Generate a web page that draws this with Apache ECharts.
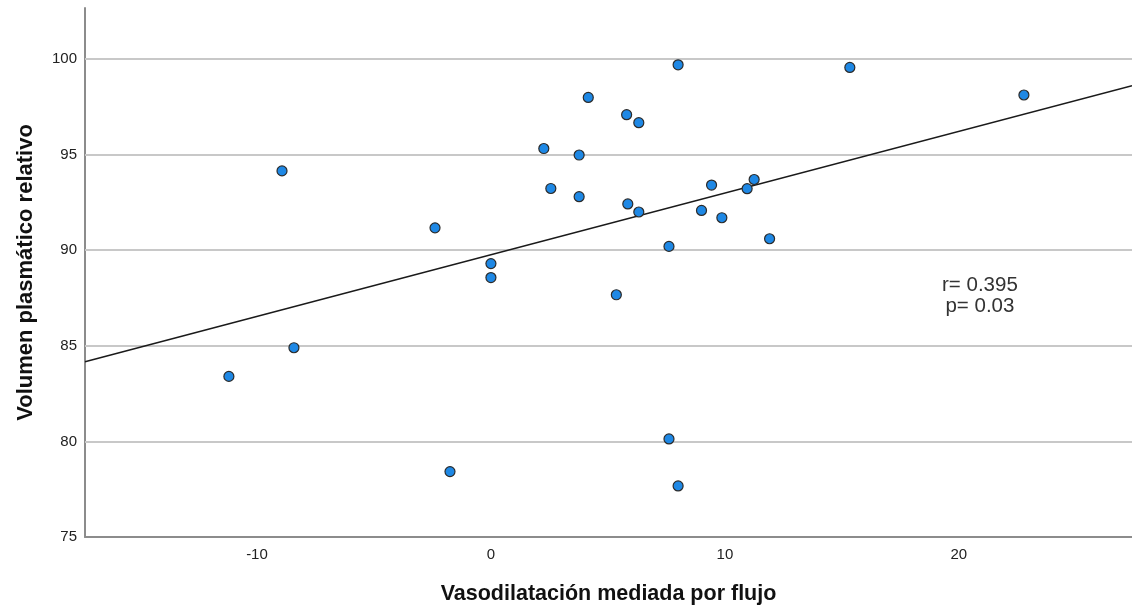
<!DOCTYPE html>
<html><head><meta charset="utf-8">
<script src="https://cdn.jsdelivr.net/npm/echarts@6/dist/echarts.min.js"></script>
<style>html,body{margin:0;padding:0;background:#fff}#c{width:1132px;height:607px}</style>
</head><body><div id="c"></div>
<script>
const xValues = [-11.2,-8.42,-8.93,-2.39,-1.75,0,0,2.26,2.56,3.77,3.77,4.16,5.36,5.8,5.85,6.32,6.32,8.0,7.61,9.0,9.43,9.87,10.95,11.25,11.91,7.61,8.0,15.34,22.78];
const yValues = [83.4,84.9,94.15,91.17,78.42,89.3,88.57,95.32,93.23,94.98,92.8,97.99,87.67,97.09,92.42,96.67,92.0,99.7,90.2,92.08,93.41,91.7,93.22,93.7,90.6,80.13,77.67,99.56,98.12];
const fitLine = [[-17.35,84.17],[27.4,98.6]];
const xTicks = [-10,0,10,20];
const yTicks = [75,80,85,90,95,100];
const stats = ['r= 0.395','p= 0.03'];
const xTitle = 'Vasodilatación mediada por flujo';
const yTitle = 'Volumen plasmático relativo';

const points = xValues.map((x,i)=>[x,yValues[i]]);
const chart = echarts.init(document.getElementById('c'));
const FONT = '"Liberation Sans", Arial, sans-serif';
chart.setOption({
  animation:false,
  grid:{left:85,right:0,top:8,bottom:70,containLabel:false,outerBoundsMode:'none'},
  xAxis:{type:'value',min:-17.35,max:27.4,
    axisLine:{show:true,onZero:false,lineStyle:{color:'#8c8c8c',width:2}},
    axisTick:{show:false},splitLine:{show:false},
    axisLabel:{customValues:xTicks,color:'#222',fontSize:15,fontFamily:FONT,margin:10},
    name:xTitle,nameLocation:'middle',nameGap:46,
    nameTextStyle:{fontSize:21.5,fontWeight:'bold',color:'#111',fontFamily:FONT}},
  yAxis:{type:'value',min:75,max:102.67,
    axisLine:{show:true,onZero:false,lineStyle:{color:'#8c8c8c',width:2}},
    axisTick:{show:false},splitLine:{show:false},
    axisLabel:{customValues:yTicks,color:'#222',fontSize:15,fontFamily:FONT,margin:8},
    name:yTitle,nameLocation:'middle',nameGap:48,
    nameTextStyle:{fontSize:22,fontWeight:'bold',color:'#111',fontFamily:FONT}},
  series:[
    {type:'line',data:[],z:1,markLine:{silent:true,z:1,symbol:'none',label:{show:false},
      lineStyle:{color:'#c8c8c8',width:2,type:'solid'},
      data:yTicks.filter(v=>v!==75).map(v=>({yAxis:v}))}},
    {type:'line',data:fitLine,symbol:'none',lineStyle:{color:'#1a1a1a',width:1.5},z:3},
    {type:'scatter',data:points,symbolSize:10,z:4,
      itemStyle:{color:'#1e88e5',borderColor:'#2b2b2b',borderWidth:1.2,opacity:1}}
  ]
});
const p1 = chart.convertToPixel({gridIndex:0},[20.9,87.63]);
chart.setOption({graphic:[{type:'text',x:p1[0],y:p1[1],z:10,
  style:{text:stats.join('\n'),font:'20.5px "Liberation Sans", Arial, sans-serif',fill:'#333',align:'center',verticalAlign:'middle',lineHeight:21}}]});
</script></body></html>
